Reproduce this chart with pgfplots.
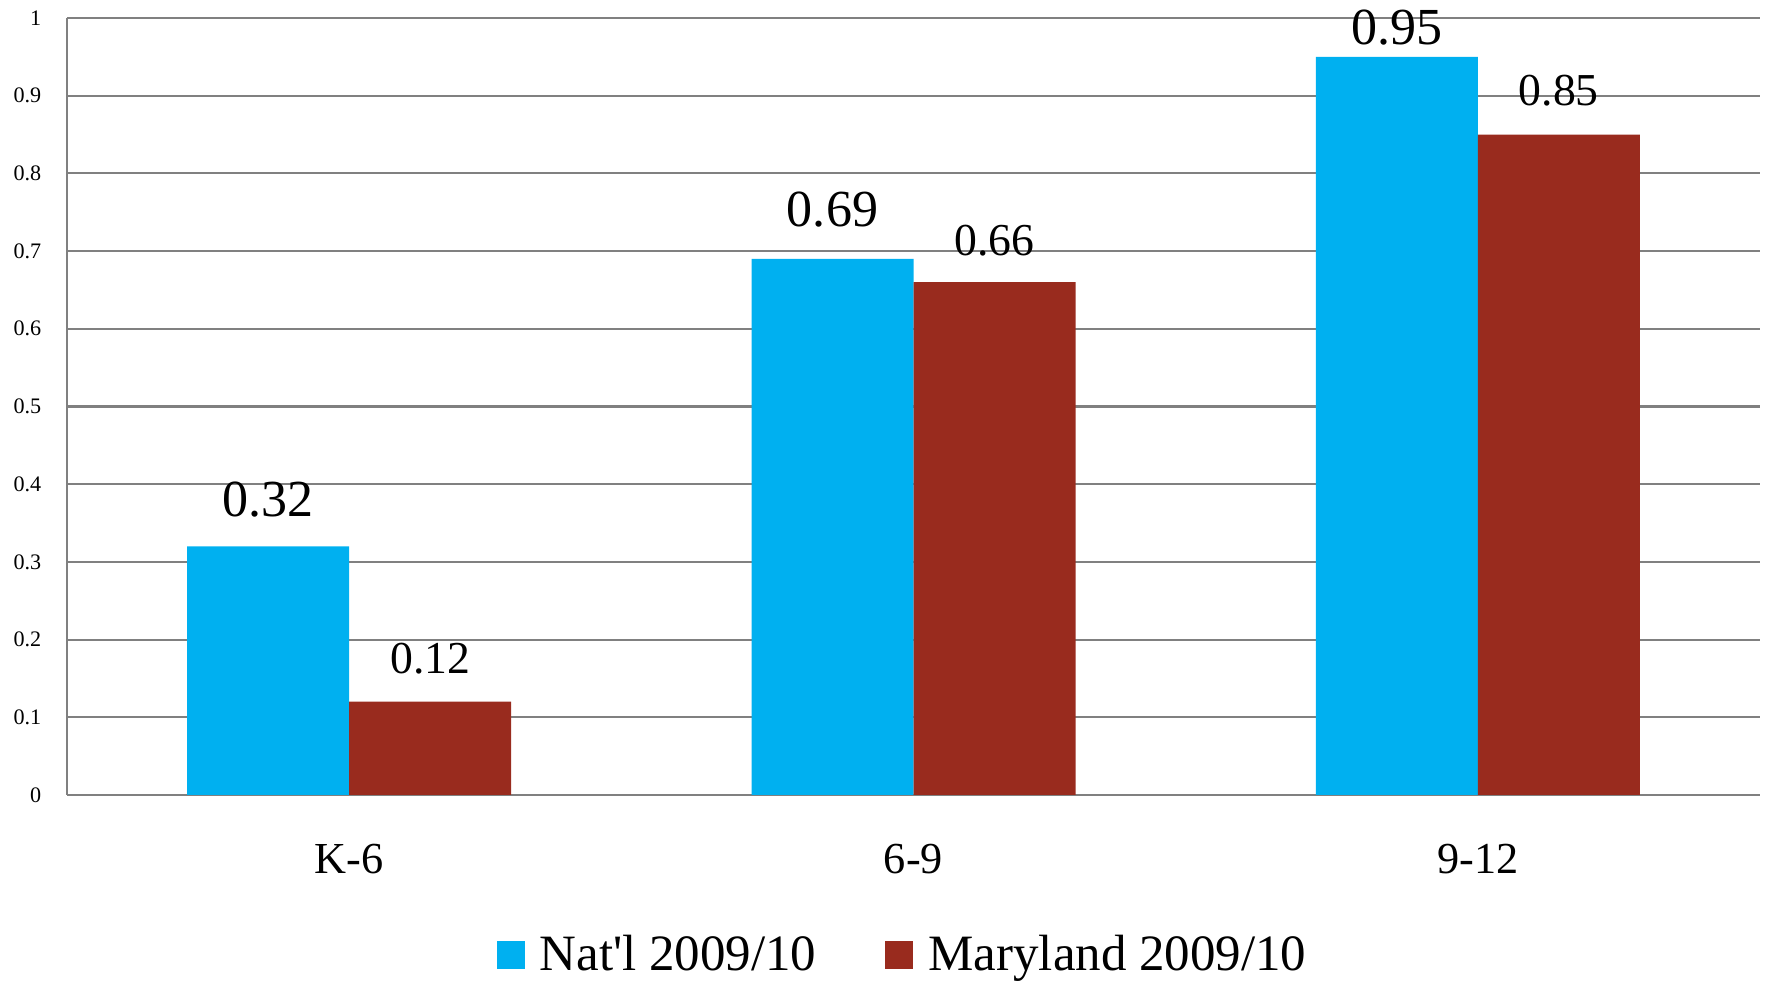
\documentclass[border=0pt]{standalone}
\usepackage{fontspec}
\setmainfont{Liberation Serif}
\usepackage{pgfplots}
\pgfplotsset{compat=1.18}
\definecolor{natblue}{RGB}{0,176,240}
\definecolor{mdred}{RGB}{153,43,30}
\definecolor{gridgray}{RGB}{128,128,128}

% x = category index, y = share, off = label lift above the bar (cm)
\pgfplotstableread{
x y off
0 0.32 0.30
1 0.69 0.32
2 0.95 0.12
}\natdata
\pgfplotstableread{
x y off
0 0.12 0.28
1 0.66 0.27
2 0.85 0.29
}\mddata

\begin{document}
\begin{tikzpicture}
\begin{axis}[
  scale only axis,
  width=16.93cm, height=7.77cm,
  ymin=0, ymax=1, xmin=-0.5, xmax=2.5,
  ytick={0,0.1,0.2,0.3,0.4,0.5,0.6,0.7,0.8,0.9,1},
  yticklabels={0,0.1,0.2,0.3,0.4,0.5,0.6,0.7,0.8,0.9,1},
  xtick={0,1,2},
  xticklabels={K-6,6-9,9-12},
  major tick length=0pt,
  axis x line*=bottom, axis y line*=left,
  axis line style={gridgray, line width=0.6pt, -},
  ymajorgrids,
  grid style={gridgray, line width=0.6pt},
  yticklabel style={font=\fontsize{6.3}{7}\selectfont, anchor=east, inner sep=0pt, xshift=-0.25cm},
  xticklabel style={font=\fontsize{12.6}{14}\selectfont, anchor=base, inner sep=0pt, yshift=-0.79cm},
  /pgf/number format/assume math mode=true,
  ybar=0pt, bar width=1.62cm,
  legend style={at={(0.495,-0.206)}, anchor=center, draw=none,
    legend columns=2, font=\fontsize{14.5}{17}\selectfont,
    /tikz/every odd column/.append style={column sep=0.08cm},
    /tikz/every even column/.append style={column sep=0.62cm}},
  legend image code/.code={\fill[#1] (0cm,-0.14cm) rectangle (0.28cm,0.14cm);},
]
\addplot[fill=natblue, draw=none,
  visualization depends on={\thisrow{off} \as \lift},
  nodes near coords,
  nodes near coords style={font=\fontsize{14.8}{16}\selectfont, anchor=base, inner sep=0pt, yshift=\lift cm, text=black}]
  table[x=x, y=y] {\natdata};
\addplot[fill=mdred, draw=none,
  visualization depends on={\thisrow{off} \as \lift},
  nodes near coords,
  nodes near coords style={font=\fontsize{13}{15}\selectfont, anchor=base, inner sep=0pt, yshift=\lift cm, text=black}]
  table[x=x, y=y] {\mddata};
\legend{Nat\textquotesingle l 2009/10, Maryland 2009/10}
\coordinate (SW) at (rel axis cs:0,0);
\coordinate (NE) at (rel axis cs:1,1);
\end{axis}
\pgfresetboundingbox
\path[use as bounding box] ([xshift=-0.67cm,yshift=-1.88cm]SW) rectangle ([xshift=0.09cm,yshift=0.18cm]NE);
\end{tikzpicture}
\end{document}
